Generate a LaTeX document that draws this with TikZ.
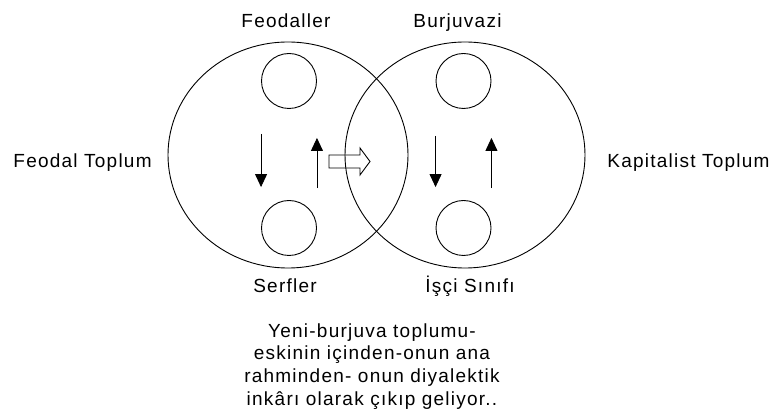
\documentclass[tikz,border=0pt]{standalone}
\usepackage{fontspec}
\setmainfont{Liberation Sans}[LetterSpace=6.5]
\usetikzlibrary{shapes.geometric,arrows.meta}

\begin{document}
\begin{tikzpicture}[x=1pt, y=-1pt, line width = 0.9pt,
								big/.style = {ellipse, draw, minimum width = 240pt,
								minimum height = 226pt, inner sep = 0pt},
								small/.style = {circle, draw, minimum size = 55pt,
								inner sep = 0pt},
								lbl/.style = {anchor = base, inner sep = 0pt,
								font = \fontsize{19}{22.7}\selectfont},
								arr/.style = {-{Triangle[width = 12pt, length = 13pt]}}]

				\useasboundingbox (0,0) rectangle (771,419);

				\node [big] (e_1) at (288,155) {};
				\node [big] (e_2) at (465,155) {};

				\node [small] (c_1) at (289,81) {};
				\node [small] (c_2) at (289,228) {};
				\node [small] (c_3) at (463.5,81) {};
				\node [small] (c_4) at (463.5,228) {};

				\draw [arr] ([yshift=-25pt]c_1.south -| c_1.west) -- ([yshift=13pt]c_2.north -| c_2.west);
				\draw [arr] ([yshift=12pt]c_2.north -| c_2.east) -- ([yshift=-29pt]c_1.south -| c_1.east);
				\draw [arr] ([yshift=-27pt]c_3.south -| c_3.west) -- ([yshift=13pt]c_4.north -| c_4.west);
				\draw [arr] ([yshift=12pt]c_4.north -| c_4.east) -- ([yshift=-29pt]c_3.south -| c_3.east);

				\coordinate (h) at (329,161.5);
				\draw (h) ++(0,-6.5) -- ++(31,0) -- ++(0,-7) -- ++(10,13.5)
				-- ++(-10,13.5) -- ++(0,-7) -- ++(-31,0) -- cycle;

				\node [lbl] (l_1) at (286,28) {Feodaller};
				\node [lbl] (l_2) at (457.5,28) {Burjuvazi};
				\node [lbl] (l_3) at (285,293) {Serfler};
				\node [lbl] (l_4) at (470,293) {İşçi Sınıfı};
				\node [lbl, anchor = base west] (l_5) at (13,168) {Feodal Toplum};
				\node [lbl, anchor = base west] (l_6) at (607,168) {Kapitalist Toplum};

				\node [lbl, anchor = north, align = center] (l_7) at (372,323)
				{Yeni-burjuva toplumu-\\eskinin içinden-onun ana\\rahminden- onun diyalektik\\inkârı olarak çıkıp geliyor..};
			\end{tikzpicture}
\end{document}
